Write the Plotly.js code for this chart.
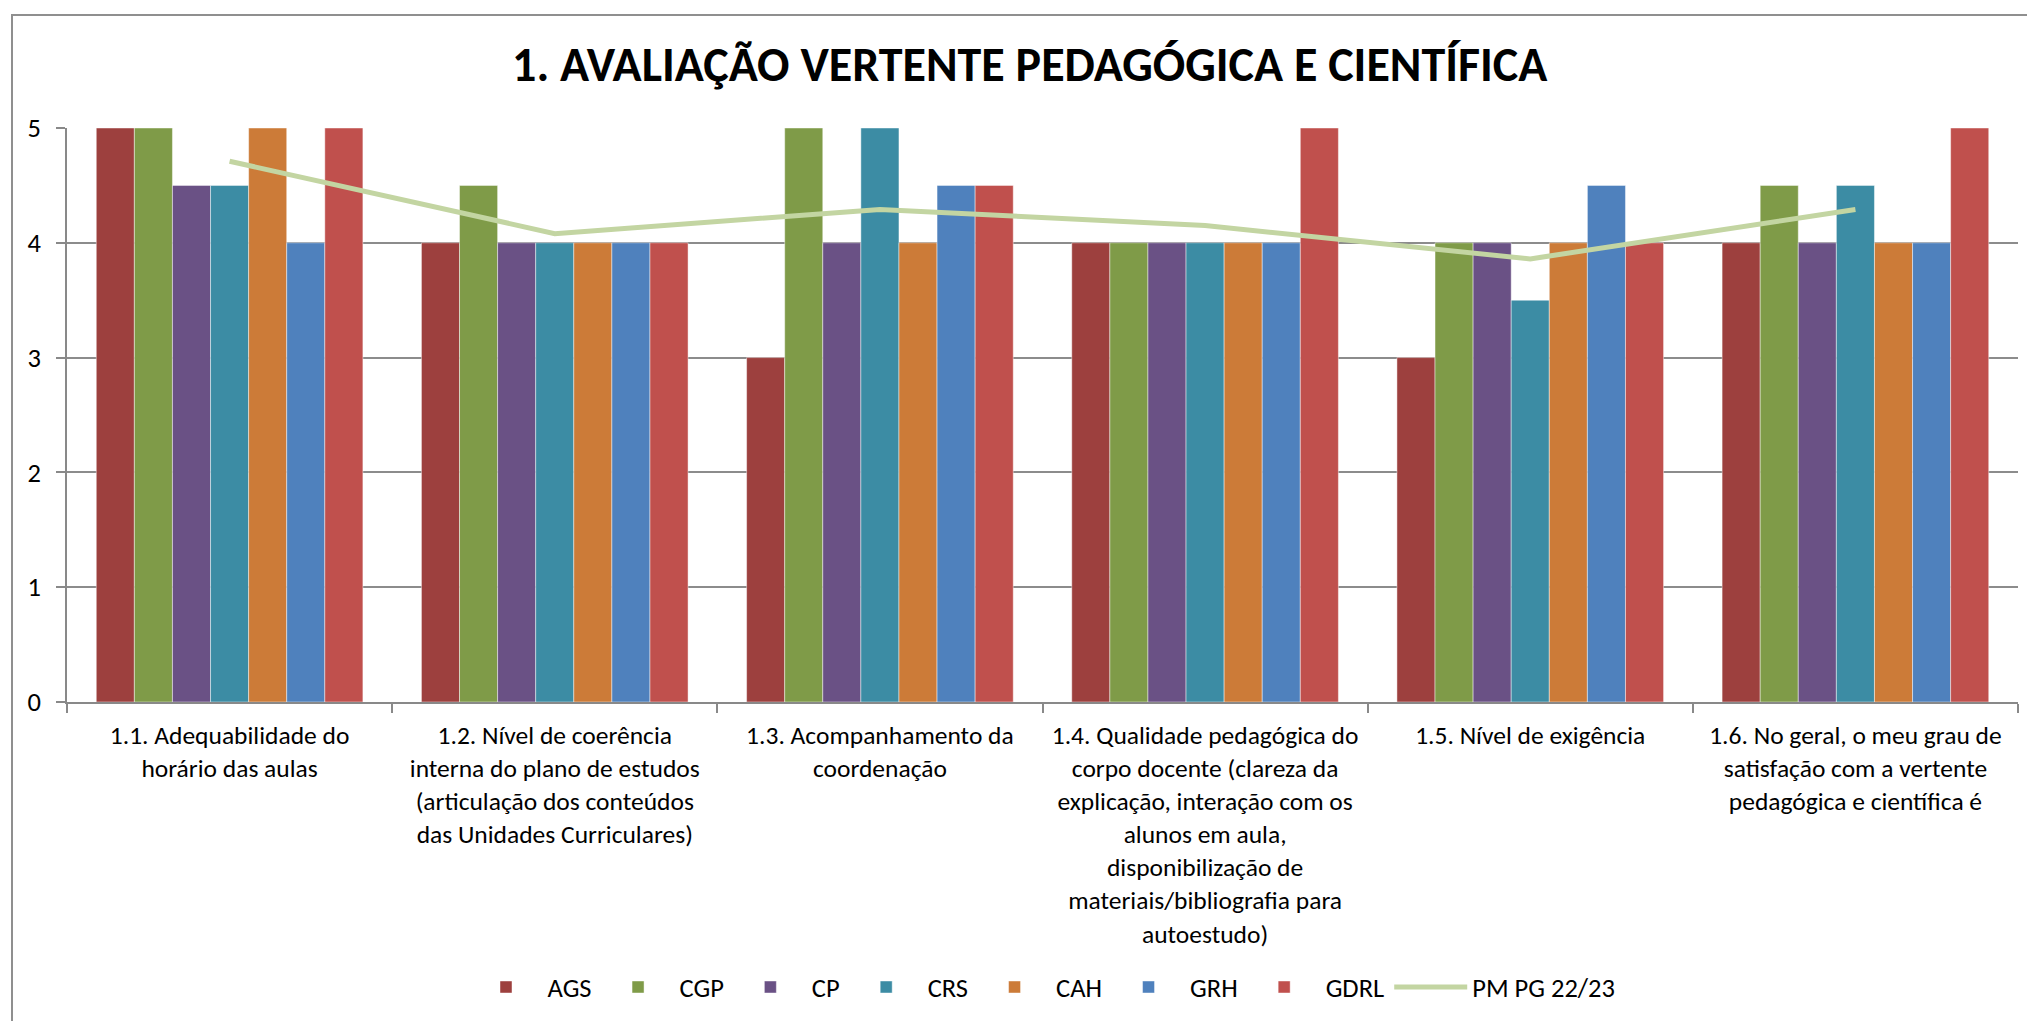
<!DOCTYPE html>
<html>
<head>
<meta charset="utf-8">
<script src="https://cdn.plot.ly/plotly-3.0.1.min.js"></script>
<style>
  html, body { margin: 0; padding: 0; background: #fff; overflow: hidden; }
  #chart { position: absolute; left: 0; top: 0; width: 2027px; height: 1021px; }
  #frame { position: absolute; left: 11px; top: 14px; width: 2100px; height: 1100px;
           border-left: 2px solid #8f8f8f; border-top: 2px solid #8f8f8f; pointer-events: none; }
</style>
</head>
<body>
<div id="chart"></div>
<div id="frame"></div>
<script>
const categories = [
  "1.1. Adequabilidade do<br>horário das aulas",
  "1.2. Nível de coerência<br>interna do plano de estudos<br>(articulação dos conteúdos<br>das Unidades Curriculares)",
  "1.3. Acompanhamento da<br>coordenação",
  "1.4. Qualidade pedagógica do<br>corpo docente (clareza da<br>explicação, interação com os<br>alunos em aula,<br>disponibilização de<br>materiais/bibliografia para<br>autoestudo)",
  "1.5. Nível de exigência",
  "1.6. No geral, o meu grau de<br>satisfação com a vertente<br>pedagógica e científica é"
];

const seriesNames = ["AGS", "CGP", "CP", "CRS", "CAH", "GRH", "GDRL"];
const AGS  = [5, 4, 3, 4, 3, 4];
const CGP  = [5, 4.5, 5, 4, 4, 4.5];
const CP   = [4.5, 4, 4, 4, 4, 4];
const CRS  = [4.5, 4, 5, 4, 3.5, 4.5];
const CAH  = [5, 4, 4, 4, 4, 4];
const GRH  = [4, 4, 4.5, 4, 4.5, 4];
const GDRL = [5, 4, 4.5, 5, 4, 5];
const lineName = "PM PG 22/23";
const PM = [4.71, 4.08, 4.29, 4.15, 3.86, 4.29];
const yTicks = [0, 1, 2, 3, 4, 5];

const seriesValues = [AGS, CGP, CP, CRS, CAH, GRH, GDRL];
const colors = ["#9d403e", "#7f9b48", "#6a5185", "#3c8ca4", "#cc7b38", "#4f81bd", "#c0504d"];

const FONT = "Carlito, Calibri, Lato, sans-serif";

const traces = seriesNames.map((n, i) => ({
  type: "bar",
  name: n,
  x: categories,
  y: seriesValues[i],
  marker: { color: colors[i], line: { color: "rgba(255,255,255,0.45)", width: 1 } },
  hoverinfo: "x+y+name"
}));

traces.push({
  type: "scatter",
  mode: "lines",
  name: lineName,
  x: categories,
  y: PM,
  line: { color: "#c3d5a2", width: 5 }
});

const layout = {
  width: 2027,
  height: 1021,
  paper_bgcolor: "#ffffff",
  plot_bgcolor: "#ffffff",
  font: { family: FONT, size: 26, color: "#000000" },
  title: {
    text: "<b>1. AVALIAÇÃO VERTENTE PEDAGÓGICA E CIENTÍFICA</b>",
    font: { family: FONT, size: 48, color: "#000000" },
    x: 0.508, xanchor: "center",
    y: 1 - 64 / 1021, yanchor: "middle", yref: "container"
  },
  margin: { l: 67, r: 9, t: 128, b: 319, pad: 0 },
  barmode: "group",
  bargap: 0.18,
  bargroupgap: 0,
  showlegend: true,
  legend: {
    orientation: "h",
    x: 0.5, xanchor: "center",
    y: -0.497, yanchor: "middle",
    font: { family: FONT, size: 26.5, color: "#000000" },
    itemwidth: 73,
    traceorder: "normal"
  },
  xaxis: {
    type: "category",
    showline: true,
    linecolor: "#898989",
    linewidth: 2,
    ticks: "outside",
    tickson: "boundaries",
    ticklen: 9,
    tickwidth: 1.5,
    tickcolor: "#898989",
    showgrid: false,
    tickangle: 0,
    tickfont: { family: FONT, size: 25.5, color: "#000000" },
    ticklabelstandoff: 9,
    automargin: false
  },
  yaxis: {
    range: [0, 5],
    tickvals: yTicks,
    showline: true,
    linecolor: "#898989",
    linewidth: 1.5,
    ticks: "outside",
    ticklen: 9,
    tickwidth: 1.5,
    tickcolor: "#898989",
    showgrid: true,
    gridcolor: "#8c8c8c",
    gridwidth: 1.6,
    zeroline: false,
    tickfont: { family: FONT, size: 26.5, color: "#000000" },
    ticklabelstandoff: 10,
    automargin: false
  }
};

Plotly.newPlot("chart", traces, layout, { displayModeBar: false, responsive: false });
</script>
</body>
</html>
